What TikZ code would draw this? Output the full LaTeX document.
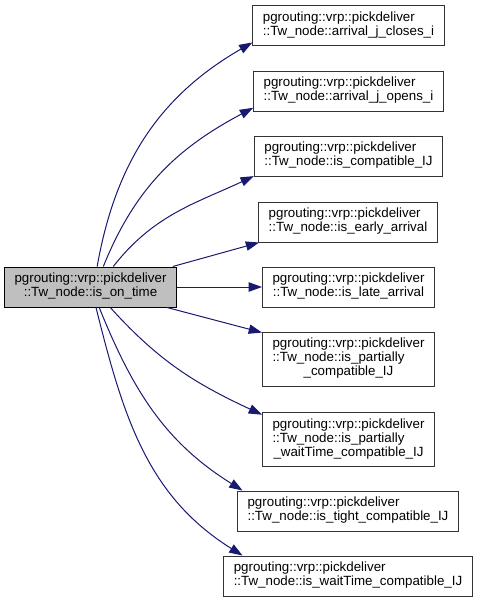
\documentclass[tikz,border=0pt]{standalone}
\usepackage{fontspec}
\setmainfont{Liberation Sans}
\usetikzlibrary{arrows.meta}
\definecolor{edgeblue}{RGB}{25, 25, 112}
\definecolor{rootgray}{RGB}{191, 191, 191}
\newcommand{\twolines}[2]{\begin{tabular}{@{}l@{}}#1\\\multicolumn{1}{@{}c@{}}{#2}\end{tabular}}
\newcommand{\threelines}[3]{\begin{tabular}{@{}l@{}}#1\\#2\\\multicolumn{1}{@{}c@{}}{#3}\end{tabular}}
\tikzset{
  fnbox/.style={draw=black!80, line width=0.75pt, fill=white, inner xsep=7.5pt, inner ysep=4.5pt, font=\fontsize{10}{10.5}\selectfont},
  callarrow/.style={-{Triangle[length=10pt, width=7pt]}, edgeblue, line width=0.75pt}
}
\begin{document}
\begin{tikzpicture}[x=0.75pt, y=-0.75pt]
\useasboundingbox (0,0) rectangle (479,603);
\node[fnbox, fill=rootgray, draw=black] (root) at (90.5,287) {\twolines{pgrouting::vrp::pickdeliver}{::Tw\_node::is\_on\_time}};
\node[fnbox] (closes) at (348.5,25.5) {\twolines{pgrouting::vrp::pickdeliver}{::Tw\_node::arrival\_j\_closes\_i}};
\node[fnbox] (opens) at (348.5,91) {\twolines{pgrouting::vrp::pickdeliver}{::Tw\_node::arrival\_j\_opens\_i}};
\node[fnbox] (compat) at (348.5,156) {\twolines{pgrouting::vrp::pickdeliver}{::Tw\_node::is\_compatible\_IJ}};
\node[fnbox] (early) at (348,222) {\twolines{pgrouting::vrp::pickdeliver}{::Tw\_node::is\_early\_arrival}};
\node[fnbox] (late) at (348.5,287) {\twolines{pgrouting::vrp::pickdeliver}{::Tw\_node::is\_late\_arrival}};
\node[fnbox] (partial) at (348.5,359) {\threelines{pgrouting::vrp::pickdeliver}{::Tw\_node::is\_partially}{\_compatible\_IJ}};
\node[fnbox] (partialwait) at (348.5,439.5) {\threelines{pgrouting::vrp::pickdeliver}{::Tw\_node::is\_partially}{\_waitTime\_compatible\_IJ}};
\node[fnbox] (tight) at (348,511) {\twolines{pgrouting::vrp::pickdeliver}{::Tw\_node::is\_tight\_compatible\_IJ}};
\node[fnbox] (waitcompat) at (348,576) {\twolines{pgrouting::vrp::pickdeliver}{::Tw\_node::is\_waitTime\_compatible\_IJ}};
% calls
\draw[callarrow] (root.72) to[out=80, in=210] (closes.190);
\draw[callarrow] (root.58) to[out=68, in=208] (opens.190);
\draw[callarrow] (root.42) to[out=52, in=205] (compat.192);
\draw[callarrow] (root.14) -- (early.193);
\draw[callarrow] (root) -- (late);
\draw[callarrow] (root.-15) -- (partial.163);
\draw[callarrow] (root.-46) to[out=-48, in=155] (partialwait.164);
\draw[callarrow] (root.-67) to[out=-68, in=148] (tight.169);
\draw[callarrow] (root.-75) to[out=-76, in=148] (waitcompat.169);
\end{tikzpicture}
\end{document}
